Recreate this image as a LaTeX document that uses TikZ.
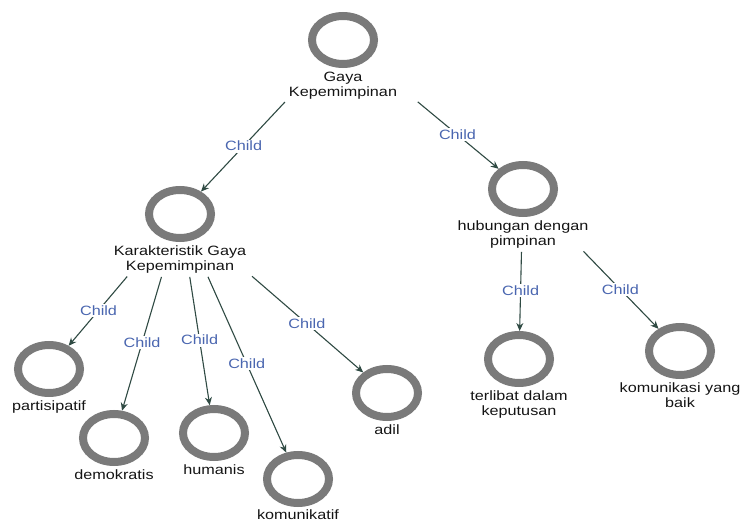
\documentclass[tikz,border=0pt]{standalone}
\usepackage{fontspec}
\setmainfont[FakeStretch=1.2]{Liberation Sans}
\usetikzlibrary{positioning, arrows.meta, shapes.geometric}
\definecolor{ringCol}{HTML}{7A7A7A}
\definecolor{edgeCol}{HTML}{2F4A43}
\definecolor{childCol}{HTML}{4A66B0}
\definecolor{textCol}{HTML}{141414}

\begin{document}
\begin{tikzpicture}[
    x=1pt, y=-1pt,
    % Node styles
    ring/.style={
        ellipse,
        draw=ringCol,
        line width=8pt,
        minimum width=62pt,
        minimum height=48pt
    },
    caption/.style={
        font=\fontsize{13.5}{15}\selectfont,
        text=textCol,
        align=center,
        inner sep=1pt
    },
    edge/.style={
        -{Stealth[length=8pt, width=7pt]},
        line width=1.1pt,
        draw=edgeCol,
        shorten <=2pt
    },
    child/.style={
        font=\fontsize{13.5}{15}\selectfont,
        text=childCol,
        fill=white,
        inner sep=1.5pt
    }
]

    \useasboundingbox (0,0) rectangle (740,524);

    % ==== ROOT ====
    \node[ring] (root) at (343, 40) {};
    \node[caption, below=3pt of root] (rootlbl) {Gaya\\Kepemimpinan};

    % ==== SECOND LEVEL ====
    \node[ring] (kar) at (180, 214) {};
    \node[caption, below=3pt of kar] (karlbl) {Karakteristik Gaya\\Kepemimpinan};

    \node[ring] (hub) at (523, 189) {};
    \node[caption, below=3pt of hub] (hublbl) {hubungan dengan\\pimpinan};

    % ==== LEAVES OF KARAKTERISTIK ====
    \node[ring] (part) at (49, 369) {};
    \node[caption, below=3pt of part] (partlbl) {partisipatif};

    \node[ring] (demo) at (114, 438) {};
    \node[caption, below=3pt of demo] (demolbl) {demokratis};

    \node[ring] (human) at (214, 433) {};
    \node[caption, below=3pt of human] (humanlbl) {humanis};

    \node[ring] (komf) at (298, 479) {};
    \node[caption, below=2pt of komf] (komflbl) {komunikatif};

    \node[ring] (adil) at (387, 393) {};
    \node[caption, below=3pt of adil] (adillbl) {adil};

    % ==== LEAVES OF HUBUNGAN ====
    \node[ring] (terl) at (519, 359) {};
    \node[caption, below=3pt of terl] (terllbl) {terlibat dalam\\keputusan};

    \node[ring] (komb) at (680, 351) {};
    \node[caption, below=3pt of komb] (komblbl) {komunikasi yang\\baik};

    % ==== EDGES (start where the centre line leaves the caption) ====
    \draw[edge] (intersection of root--kar and rootlbl.south west--rootlbl.south east) -- (kar)
        node[child, pos=0.5] {Child};
    \draw[edge] (intersection of root--hub and rootlbl.south west--rootlbl.south east) -- (hub)
        node[child, pos=0.5] {Child};

    \draw[edge] (intersection of kar--part and karlbl.south west--karlbl.south east) -- (part)
        node[child, pos=0.5] {Child};
    \draw[edge] (intersection of kar--demo and karlbl.south west--karlbl.south east) -- (demo)
        node[child, pos=0.5] {Child};
    \draw[edge] (intersection of kar--human and karlbl.south west--karlbl.south east) -- (human)
        node[child, pos=0.5] {Child};
    \draw[edge] (intersection of kar--komf and karlbl.south west--karlbl.south east) -- (komf)
        node[child, pos=0.5] {Child};
    \draw[edge] (intersection of kar--adil and karlbl.south west--karlbl.south east) -- (adil)
        node[child, pos=0.5] {Child};

    \draw[edge] (intersection of hub--terl and hublbl.south west--hublbl.south east) -- (terl)
        node[child, pos=0.5] {Child};
    \draw[edge] (intersection of hub--komb and hublbl.south west--hublbl.south east) -- (komb)
        node[child, pos=0.5] {Child};

\end{tikzpicture}
\end{document}
